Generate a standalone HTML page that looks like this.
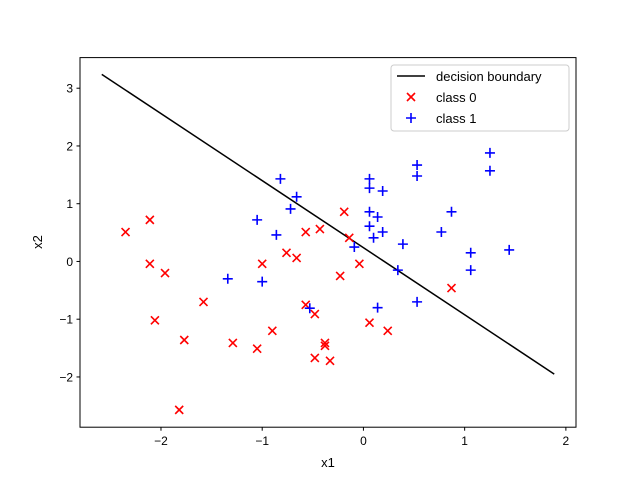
<!DOCTYPE html>
<html><head><meta charset="utf-8"><style>body{margin:0;background:#fff}svg{display:block;font-family:"Liberation Sans","DejaVu Sans",sans-serif}</style></head>
<body>
<svg id="chart" width="640" height="480">
<rect width="640" height="480" fill="#fff"/>
<g id="marks"></g>
<rect x="80" y="57.6" width="496" height="369.6" fill="none" stroke="#000" stroke-width="1"/>
<g id="axes"></g>
<text x="328" y="467" font-size="13" text-anchor="middle">x1</text>
<text x="0" y="0" font-size="13" text-anchor="middle" transform="translate(42,242) rotate(-90)">x2</text>
<g>
<rect x="391" y="65" width="178" height="66" rx="3" fill="#fff" fill-opacity="0.8" stroke="#ccc"/>
<line x1="397" y1="76" x2="425" y2="76" stroke="#000" stroke-width="1.5"/>
<text x="436" y="81" font-size="13">decision boundary</text>
<path d="M407,93 l8,8 M415,93 l-8,8" stroke="red" stroke-width="1.6"/>
<text x="436" y="102" font-size="13">class 0</text>
<path d="M406,118 h10 M411,113 v10" stroke="blue" stroke-width="1.6"/>
<text x="436" y="123" font-size="13">class 1</text>
</g>
</svg>
<script>
const xTicks=[-2,-1,0,1,2];
const yTicks=[-2,-1,0,1,2,3];
const boundaryX=[-2.585,1.885];
const boundaryY=[3.24,-1.95];
const class0X=[-2.35,-2.11,-2.11,-1.96,-2.06,-1.77,-1.82,-1.58,-1.29,-1.05,-0.90,-1.00,-0.76,-0.66,-0.57,-0.43,-0.57,-0.48,-0.48,-0.38,-0.38,-0.33,-0.23,-0.19,-0.14,-0.04,0.06,0.24,0.87];
const class0Y=[0.51,0.72,-0.04,-0.20,-1.02,-1.36,-2.57,-0.70,-1.41,-1.51,-1.20,-0.04,0.15,0.06,0.51,0.56,-0.75,-0.91,-1.67,-1.41,-1.46,-1.72,-0.25,0.86,0.41,-0.04,-1.06,-1.20,-0.46];
const class1X=[-1.34,-1.05,-1.00,-0.86,-0.82,-0.72,-0.66,-0.53,-0.09,0.06,0.06,0.06,0.06,0.10,0.14,0.19,0.19,0.14,0.34,0.39,0.53,0.53,0.53,0.77,0.87,1.06,1.06,1.25,1.25,1.44];
const class1Y=[-0.30,0.72,-0.35,0.46,1.43,0.91,1.12,-0.81,0.25,1.43,1.27,0.86,0.61,0.41,0.77,1.22,0.51,-0.80,-0.15,0.30,1.67,1.48,-0.70,0.51,0.86,0.15,-0.15,1.88,1.57,0.20];
const X0=-2.80,X1=2.10,Y0=-2.87,Y1=3.53;
const L=80,R=576,T=57.6,B=427.2;
const sx=v=>L+(v-X0)/(X1-X0)*(R-L);
const sy=v=>B-(v-Y0)/(Y1-Y0)*(B-T);
const NS='http://www.w3.org/2000/svg';
const marks=document.getElementById('marks'),axes=document.getElementById('axes');
function mk(tag,attrs,parent){const e=document.createElementNS(NS,tag);for(const k in attrs)e.setAttribute(k,attrs[k]);parent.appendChild(e);return e;}
xTicks.forEach(t=>{const x=sx(t);
 const l=mk('line',{x1:x,x2:x,y1:B,y2:B+3.5,stroke:'#000'},axes);
 
 
 const tx=mk('text',{x:x,y:B+18,'font-size':12,'text-anchor':'middle'},axes);tx.textContent=(t<0?'\u2212'+(-t):t);
 
 });
yTicks.forEach(t=>{const y=sy(t);
 const l=mk('line',{x1:L-3.5,x2:L,y1:y,y2:y,stroke:'#000'},axes);
 
 
 const tx=mk('text',{x:L-7,y:y+4.5,'font-size':12,'text-anchor':'end'},axes);tx.textContent=(t<0?'\u2212'+(-t):t);
 
 });
const bl=mk('line',{x1:sx(boundaryX[0]),y1:sy(boundaryY[0]),x2:sx(boundaryX[1]),y2:sy(boundaryY[1]),stroke:'#000','stroke-width':1.5},marks);


class0X.forEach((v,i)=>{const x=sx(v),y=sy(class0Y[i]);
 const p=mk('path',{d:`M${x-4},${y-4}l8,8M${x+4},${y-4}l-8,8`,stroke:'red','stroke-width':1.6},marks);
 
 });
class1X.forEach((v,i)=>{const x=sx(v),y=sy(class1Y[i]);
 const p=mk('path',{d:`M${x-5},${y}h10M${x},${y-5}v10`,stroke:'blue','stroke-width':1.6},marks);
 
 });
</script>
</body></html>
